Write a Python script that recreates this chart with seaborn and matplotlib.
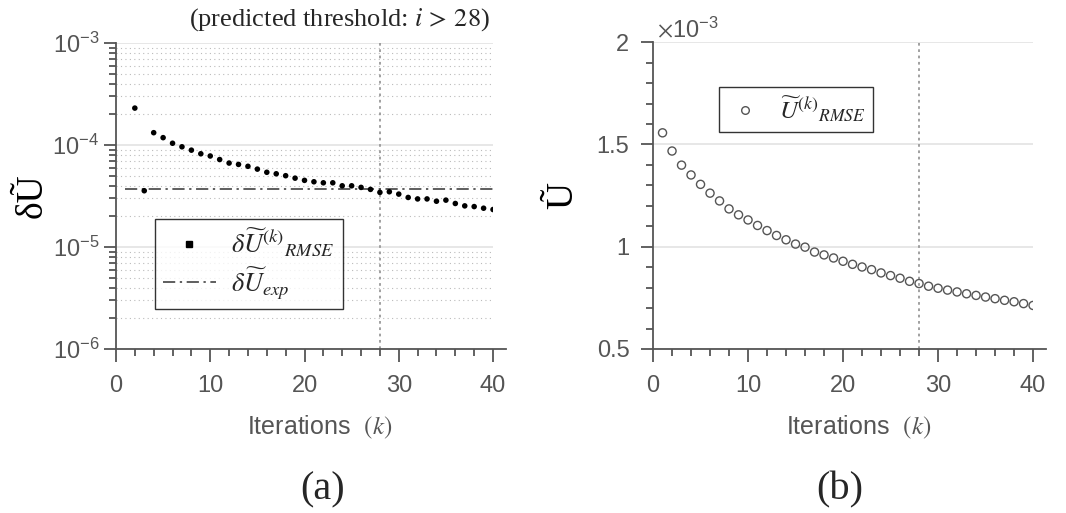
import numpy as np
import pandas as pd
import matplotlib
matplotlib.use('Agg')
import matplotlib.pyplot as plt
import matplotlib.ticker as mticker
from matplotlib.lines import Line2D
import seaborn as sns

# Data -------------------------------------------------------------------------

k_a = list(range(2, 41))
du_rmse = [2.30e-4, 3.56e-5, 1.32e-4, 1.18e-4, 1.04e-4, 9.6e-5, 8.9e-5, 8.2e-5,
           7.8e-5, 7.2e-5, 6.65e-5, 6.45e-5, 6.18e-5, 5.8e-5, 5.4e-5, 5.22e-5,
           5.0e-5, 4.73e-5, 4.5e-5, 4.36e-5, 4.26e-5, 4.26e-5, 3.98e-5, 3.98e-5,
           3.84e-5, 3.67e-5, 3.43e-5, 3.48e-5, 3.3e-5, 3.06e-5, 2.96e-5, 2.96e-5,
           2.81e-5, 2.88e-5, 2.67e-5, 2.53e-5, 2.49e-5, 2.4e-5, 2.33e-5]

k_exp = [1, 40]
du_exp = [3.67e-5, 3.67e-5]

k_b = list(range(1, 41))
u_rmse = [1.557, 1.468, 1.399, 1.351, 1.305, 1.262, 1.224, 1.185, 1.156, 1.131,
          1.104, 1.079, 1.055, 1.034, 1.013, 0.998, 0.974, 0.960, 0.945, 0.929,
          0.914, 0.901, 0.888, 0.872, 0.859, 0.846, 0.831, 0.820, 0.807, 0.797,
          0.788, 0.779, 0.770, 0.762, 0.754, 0.746, 0.738, 0.731, 0.722, 0.713]  # x 1e-3

threshold = 28

df_a = pd.DataFrame({'k': k_a, 'du': du_rmse})
df_exp = pd.DataFrame({'k': k_exp, 'du': du_exp})
df_b = pd.DataFrame({'k': k_b, 'u': u_rmse})

# Style ------------------------------------------------------------------------

sns.set_style('white')
plt.rcParams['font.family'] = ['Liberation Sans', 'DejaVu Sans']
plt.rcParams['mathtext.fontset'] = 'stix'
gray = '#555555'
serif = ['Liberation Serif', 'DejaVu Serif']

fig = plt.figure(figsize=(10.66, 5.13), dpi=100)
ax1 = fig.add_axes([0.1088, 0.3197, 0.3537, 0.5965])
ax2 = fig.add_axes([0.6126, 0.3197, 0.3565, 0.598])


def style_axis(ax):
    for s in ['top', 'right']:
        ax.spines[s].set_visible(False)
    for s in ['left', 'bottom']:
        ax.spines[s].set_color(gray)
        ax.spines[s].set_linewidth(1.3)
    ax.tick_params(which='major', direction='out', length=9, width=1.3,
                   color=gray, labelcolor=gray, labelsize=17,
                   left=True, bottom=True)
    ax.tick_params(which='minor', direction='out', length=5, width=1.3,
                   color=gray, left=True, bottom=True)
    ax.tick_params(axis='x', which='major', pad=10)
    ax.tick_params(axis='y', which='major', pad=3)
    ax.set_xlim(0, 40)
    ax.set_xticks([0, 10, 20, 30, 40])
    ax.xaxis.set_minor_locator(mticker.MultipleLocator(2))
    ax.spines['bottom'].set_bounds(0, 41.4)
    ax.set_xlabel('Iterations  $(k)$', fontsize=18, color=gray, labelpad=12)
    ax.xaxis.label.set_x(0.54)
    ax.axvline(threshold, color='#999999', ls=(0, (1.5, 2)), lw=1.3, zorder=1)


# (a) --------------------------------------------------------------------------

sns.scatterplot(data=df_a, x='k', y='du', ax=ax1, color='black', s=16,
                edgecolor='none', zorder=3)
sns.lineplot(data=df_exp, x='k', y='du', ax=ax1, color='#333333', lw=1.1,
             ls=(0, (8, 3, 1.5, 3)), zorder=2)
ax1.set_yscale('log')
ax1.set_ylim(1e-6, 1e-3)
ax1.yaxis.set_major_locator(mticker.LogLocator(base=10, numticks=10))
ax1.yaxis.set_minor_locator(mticker.LogLocator(base=10, subs=np.arange(2, 10), numticks=20))
ax1.yaxis.set_minor_formatter(mticker.NullFormatter())
ax1.grid(which='major', axis='y', color='#e3e3e3', lw=1.2, ls='-')
ax1.grid(which='minor', axis='y', color='#bbbbbb', lw=0.8, ls=(0, (1, 3)))
style_axis(ax1)
ax1.set_ylabel('δŨ', fontsize=27, family=serif, color='black', labelpad=2)

h1 = [Line2D([], [], ls='none', marker='s', ms=4.5, color='black'),
      Line2D([], [], color='#333333', lw=1.1, ls=(0, (8, 3, 1.5, 3)))]
l1 = [r'$\delta\widetilde{U}^{(k)}{}_{RMSE}$', r'$\delta\widetilde{U}_{exp}$']
leg1 = ax1.legend(h1, l1, loc='upper left', bbox_to_anchor=(0.103, 0.425),
                  fontsize=19, frameon=True, fancybox=False, handlelength=2.0,
                  handletextpad=0.6, borderpad=0.3, labelspacing=0.25,
                  borderaxespad=0)
leg1.get_frame().set_edgecolor('black')
leg1.get_frame().set_linewidth(1.0)

fig.text(0.46, 0.962, r'(predicted threshold: $i\,>\,28$)', ha='right', va='center',
         fontsize=19, family=serif)

# (b) --------------------------------------------------------------------------

sns.scatterplot(data=df_b, x='k', y='u', ax=ax2, marker='o', s=34,
                facecolor='none', edgecolor=gray, linewidth=1.0, zorder=3)
ax2.set_ylim(0.5, 2)
ax2.set_yticks([0.5, 1, 1.5, 2])
ax2.yaxis.set_minor_locator(mticker.MultipleLocator(0.1))
ax2.yaxis.set_major_formatter(mticker.FuncFormatter(lambda v, p: '{:g}'.format(v)))
ax2.grid(which='major', axis='y', color='#e3e3e3', lw=1.2, ls='-')
style_axis(ax2)
ax2.tick_params(axis='y', which='major', pad=8)
ax2.set_ylabel('Ũ', fontsize=27, family=serif, color='black', labelpad=12)
ax2.text(0.01, 1.0, r'$\times\mathregular{10^{-3}}$', transform=ax2.transAxes,
         ha='left', va='bottom', fontsize=17, color=gray)

h2 = [Line2D([], [], ls='none', marker='o', ms=5.5, mfc='none', mec=gray, mew=1.0)]
l2 = [r'$\widetilde{U}^{(k)}{}_{RMSE}$']
leg2 = ax2.legend(h2, l2, loc='upper left', bbox_to_anchor=(0.173, 0.853),
                  fontsize=18, frameon=True, fancybox=False, handlelength=1.5,
                  handletextpad=0.6, borderpad=0.3, borderaxespad=0)
leg2.get_frame().set_edgecolor('black')
leg2.get_frame().set_linewidth(1.0)

fig.text(0.303, 0.045, '(a)', ha='center', va='center', fontsize=29, family=serif)
fig.text(0.788, 0.045, '(b)', ha='center', va='center', fontsize=29, family=serif)

fig.savefig('out.png', dpi=100)
